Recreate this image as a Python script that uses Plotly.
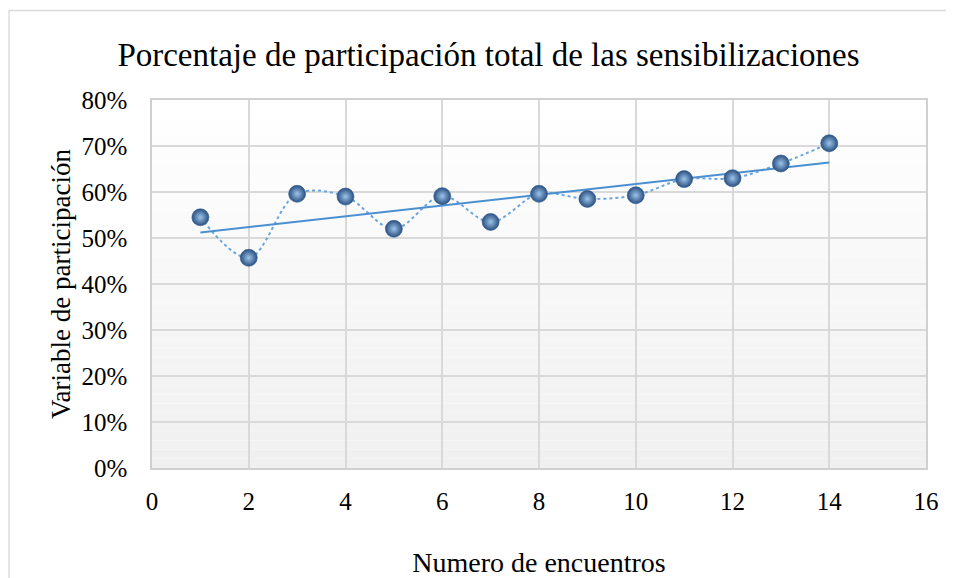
import numpy as np
import plotly.graph_objects as go

encuentros = list(range(1, 15))
participacion = [54.5, 45.7, 59.6, 59.0, 52.0, 59.1, 53.5, 59.6, 58.5, 59.3, 62.8, 63.0, 66.2, 70.6]
x_ticks = list(range(0, 17, 2))
y_ticks = list(range(0, 81, 10))
y_tick_labels = [f"{v}%" for v in y_ticks]

title_text = "Porcentaje de participación total de las sensibilizaciones"
x_title = "Numero de encuentros"
y_title = "Variable de participación"

FONT = "Liberation Serif, Times New Roman, serif"

coef = np.polyfit(encuentros, participacion, 1)
trend = np.polyval(coef, encuentros)

W, H = 946, 570          # page body has an 8px margin
L, T, PW, PH = 144, 92, 774, 368
R, B = W - L - PW, H - T - PH

fig = go.Figure()

fig.add_trace(go.Scatter(
    x=encuentros, y=participacion, mode="lines",
    line=dict(color="#6aa6dc", width=2, dash="dot", shape="spline", smoothing=1.0),
    showlegend=False, hoverinfo="skip"))

fig.add_trace(go.Scatter(
    x=[encuentros[0], encuentros[-1]], y=[trend[0], trend[-1]], mode="lines",
    line=dict(color="#4A8FD0", width=2),
    showlegend=False, hoverinfo="skip"))

fig.add_trace(go.Scatter(
    x=encuentros, y=participacion, mode="markers",
    marker=dict(size=17, color="#2a5081",
                gradient=dict(type="radial", color="#9cc4ea"),
                line=dict(width=0.6, color="#2f5b8c")),
    showlegend=False))

# plot area gradient background (white at top to light gray at bottom)
shapes = []
n = 40
for i in range(n):
    t = i / (n - 1)
    g = int(round(255 - (255 - 240) * (1 - t)))
    shapes.append(dict(type="rect", xref="x domain", yref="y domain",
                       x0=0, x1=1, y0=i / n, y1=(i + 1) / n,
                       fillcolor=f"rgb({g},{g},{g})", line=dict(width=0),
                       layer="below"))
# outer chart border
bx = (9 - 8 - L) / PW
by = (T + PH - (10.5 - 8)) / PH
shapes.append(dict(type="rect", xref="paper", yref="paper",
                   x0=bx, x1=1.2, y0=-0.6, y1=by,
                   line=dict(color="#d9d9d9", width=1.3), fillcolor="rgba(0,0,0,0)",
                   layer="above"))

fig.update_layout(
    width=W, height=H,
    margin=dict(l=L, r=R, t=T, b=B),
    paper_bgcolor="white", plot_bgcolor="white",
    font=dict(family=FONT, color="#000000"),
    shapes=shapes,
    title=dict(text=title_text, x=(488.5 - 8) / W, xanchor="center", xref="container",
               y=1 - (54 - 8) / H, yref="container", yanchor="middle",
               font=dict(family=FONT, size=33, color="#000000")),
)

fig.update_xaxes(
    range=[0, 16], tickvals=x_ticks, ticktext=[str(v) for v in x_ticks],
    showgrid=True, gridcolor="#d9d9d9", gridwidth=1.5,
    showline=True, linecolor="#d0d0d0", linewidth=1.5, mirror=True,
    zeroline=False, ticks="", ticklen=0, ticklabelstandoff=10, automargin=False,
    tickfont=dict(family=FONT, size=25, color="#000000"),
    title=dict(text=x_title, font=dict(family=FONT, size=28, color="#000000"), standoff=42),
)
fig.update_yaxes(
    range=[0, 80], tickvals=y_ticks, ticktext=y_tick_labels,
    showgrid=True, gridcolor="#d9d9d9", gridwidth=1.5,
    showline=True, linecolor="#d0d0d0", linewidth=1.5, mirror=True,
    zeroline=False, ticks="", ticklen=0, ticklabelstandoff=18, automargin=False,
    tickfont=dict(family=FONT, size=25, color="#000000"),
    title=dict(text=y_title, font=dict(family=FONT, size=27, color="#000000"), standoff=3),
)

fig.write_html("out.html")
